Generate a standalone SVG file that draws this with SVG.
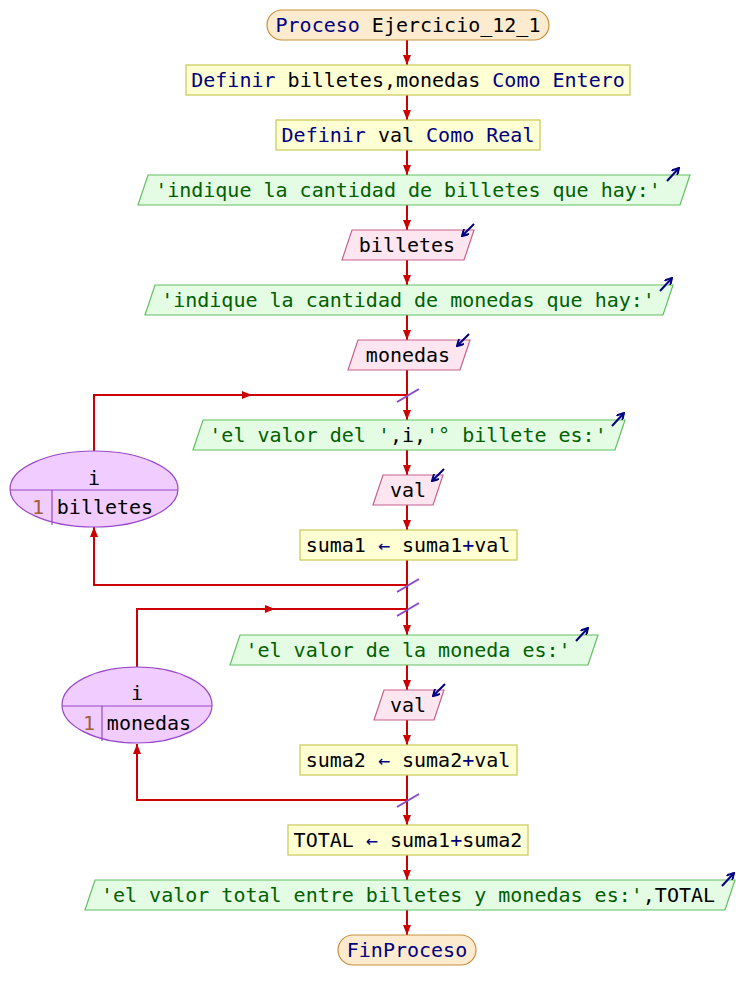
<svg xmlns="http://www.w3.org/2000/svg" width="736" height="1000" viewBox="0 0 736 1000">
<defs>
<marker id="ah" markerWidth="10" markerHeight="8" refX="10" refY="4" orient="auto" markerUnits="userSpaceOnUse"><path d="M0,0 L10,4 L0,8 z" fill="#cc0000"/></marker>
<marker id="io" markerWidth="8" markerHeight="8" refX="7" refY="4" orient="auto" markerUnits="userSpaceOnUse"><path d="M0,0 L7,4 L0,8" fill="none" stroke="#000080" stroke-width="2"/></marker>
<style>
text{font-family:"DejaVu Sans Mono","Liberation Mono",monospace;font-size:20px;fill:#000;text-anchor:middle}
.kw{fill:#000080}
.st{fill:#006000}
.num{fill:#a0603a}
.term{fill:#fdebd0;stroke:#c8903c;stroke-width:1.2}
.proc{fill:#ffffd4;stroke:#c8c858;stroke-width:1.2}
.out{fill:#e4fce4;stroke:#60c060;stroke-width:1.2}
.in{fill:#fde6f0;stroke:#c8608c;stroke-width:1.2}
.loop{fill:#f0ccff;stroke:#9848c8;stroke-width:1.2}
.ldiv{stroke:#9848c8;stroke-width:1.2;fill:none}
.c{stroke:#cc0000;stroke-width:2;fill:none}
.sl{stroke:#8848c8;stroke-width:2}
.ico{stroke:#000080;stroke-width:2;fill:none}
</style>
</defs>
<g id="connectors">
<path class="c" d="M407,40 V65" marker-end="url(#ah)"/>
<path class="c" d="M407,95 V120" marker-end="url(#ah)"/>
<path class="c" d="M407,150 V175" marker-end="url(#ah)"/>
<path class="c" d="M407,205 V230" marker-end="url(#ah)"/>
<path class="c" d="M407,260 V285" marker-end="url(#ah)"/>
<path class="c" d="M407,315 V340" marker-end="url(#ah)"/>
<path class="c" d="M407,370 V420" marker-end="url(#ah)"/>
<path class="c" d="M407,450 V475" marker-end="url(#ah)"/>
<path class="c" d="M407,505 V530" marker-end="url(#ah)"/>
<path class="c" d="M407,560 V635" marker-end="url(#ah)"/>
<path class="c" d="M407,665 V690" marker-end="url(#ah)"/>
<path class="c" d="M407,720 V745" marker-end="url(#ah)"/>
<path class="c" d="M407,775 V825" marker-end="url(#ah)"/>
<path class="c" d="M407,855 V880" marker-end="url(#ah)"/>
<path class="c" d="M407,910 V935" marker-end="url(#ah)"/>
<path class="c" d="M94,451 V395 H252" marker-end="url(#ah)"/>
<path class="c" d="M250,395 H407"/>
<path class="c" d="M407,585 H94 V527" marker-end="url(#ah)"/>
<path class="c" d="M137,667 V609 H275" marker-end="url(#ah)"/>
<path class="c" d="M273,609 H407"/>
<path class="c" d="M407,800 H137 V744" marker-end="url(#ah)"/>
<line class="sl" x1="397" y1="402" x2="419" y2="389"/>
<line class="sl" x1="397" y1="592" x2="419" y2="579"/>
<line class="sl" x1="397" y1="616" x2="419" y2="603"/>
<line class="sl" x1="397" y1="807" x2="419" y2="794"/>
</g>
<g id="n1"><rect class="term" x="267" y="10" width="282" height="30" rx="15"/><text x="408" y="32"><tspan class="kw">Proceso</tspan> Ejercicio_12_1</text></g>
<g id="n2"><rect class="proc" x="186" y="65" width="444" height="30"/><text x="408" y="87"><tspan class="kw">Definir</tspan> billetes,monedas <tspan class="kw">Como Entero</tspan></text></g>
<g id="n3"><rect class="proc" x="276" y="120" width="264" height="30"/><text x="408" y="142"><tspan class="kw">Definir</tspan> val <tspan class="kw">Como Real</tspan></text></g>
<g id="n4"><polygon class="out" points="148,175 690,175 680,205 138,205"/><text class="st" x="408" y="197">'indique la cantidad de billetes que hay:'</text><path class="ico" d="M667,181 L679,168" marker-end="url(#io)"/></g>
<g id="n5"><polygon class="in" points="352,230 474,230 464,260 342,260"/><text x="407" y="252">billetes</text><path class="ico" d="M474,224 L462,236" marker-end="url(#io)"/></g>
<g id="n6"><polygon class="out" points="155,285 673,285 663,315 145,315"/><text class="st" x="408" y="307">'indique la cantidad de monedas que hay:'</text><path class="ico" d="M660,291 L672,278" marker-end="url(#io)"/></g>
<g id="n7"><polygon class="in" points="358,340 470,340 460,370 348,370"/><text x="408" y="362">monedas</text><path class="ico" d="M469,334 L457,346" marker-end="url(#io)"/></g>
<g id="loop1"><ellipse class="loop" cx="94" cy="489" rx="84" ry="38"/><line class="ldiv" x1="10" y1="490" x2="178" y2="490"/><line class="ldiv" x1="52" y1="490" x2="52" y2="525"/><text x="94" y="485">i</text><text class="num" x="38" y="514">1</text><text x="105" y="514">billetes</text></g>
<g id="n8"><polygon class="out" points="203,420 625,420 615,450 193,450"/><text x="408" y="442"><tspan class="st">'el valor del '</tspan>,i,<tspan class="st">'° billete es:'</tspan></text><path class="ico" d="M612,426 L624,413" marker-end="url(#io)"/></g>
<g id="n9"><polygon class="in" points="383,475 443,475 433,505 373,505"/><text x="408" y="497">val</text><path class="ico" d="M444,469 L432,481" marker-end="url(#io)"/></g>
<g id="n10"><rect class="proc" x="300" y="530" width="217" height="30"/><text x="408" y="552">suma1 <tspan class="kw">←</tspan> suma1<tspan class="kw">+</tspan>val</text></g>
<g id="loop2"><ellipse class="loop" cx="137" cy="705" rx="75" ry="38"/><line class="ldiv" x1="62" y1="706" x2="212" y2="706"/><line class="ldiv" x1="102" y1="706" x2="102" y2="741"/><text x="137" y="700">i</text><text class="num" x="89" y="730">1</text><text x="149" y="730">monedas</text></g>
<g id="n11"><polygon class="out" points="240,635 598,635 588,665 230,665"/><text class="st" x="408" y="657">'el valor de la moneda es:'</text><path class="ico" d="M576,641 L588,628" marker-end="url(#io)"/></g>
<g id="n12"><polygon class="in" points="384,690 444,690 434,720 374,720"/><text x="408" y="712">val</text><path class="ico" d="M445,684 L433,696" marker-end="url(#io)"/></g>
<g id="n13"><rect class="proc" x="300" y="745" width="217" height="30"/><text x="408" y="767">suma2 <tspan class="kw">←</tspan> suma2<tspan class="kw">+</tspan>val</text></g>
<g id="n14"><rect class="proc" x="288" y="825" width="240" height="30"/><text x="408" y="847">TOTAL <tspan class="kw">←</tspan> suma1<tspan class="kw">+</tspan>suma2</text></g>
<g id="n15"><polygon class="out" points="95,880 735,880 725,910 85,910"/><text x="408" y="902"><tspan class="st">'el valor total entre billetes y monedas es:'</tspan>,TOTAL</text><path class="ico" d="M722,886 L734,873" marker-end="url(#io)"/></g>
<g id="n16"><rect class="term" x="338" y="935" width="138" height="30" rx="15"/><text class="kw" x="407" y="957">FinProceso</text></g>
</svg>
